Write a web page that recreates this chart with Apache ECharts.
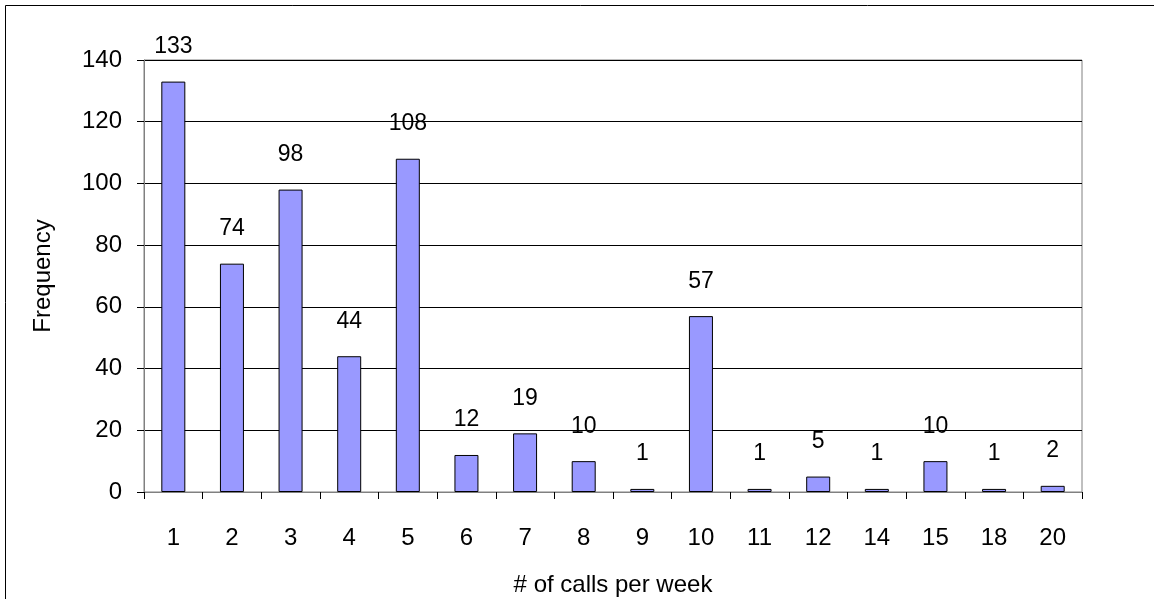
<!DOCTYPE html>
<html>
<head>
	<title>Calls per week</title>
	<script src="https://cdn.jsdelivr.net/npm/echarts@6/dist/echarts.min.js"></script>
	<style>
		html,body{
			height:100%;
			width:100%;
			margin:0;
			padding:0;
			background:#ffffff;
		}
		#chart{
			width:1154px;
			height:599px;
		}
	</style>
</head>
<body>
	<div id="chart"></div>
	<script type="text/javascript">
		var categories = ['1','2','3','4','5','6','7','8','9','10','11','12','14','15','18','20'];
		var frequency = [133, 74, 98, 44, 108, 12, 19, 10, 1, 57, 1, 5, 1, 10, 1, 2];
		var yTicks = [0, 20, 40, 60, 80, 100, 120, 140];

		var chart = echarts.init(document.getElementById('chart'));
		var font = 'Arial, "Liberation Sans", sans-serif';

		var option = {
			backgroundColor: '#ffffff',
			animation: false,
			graphic: [{//outer frame
				type: 'rect',
				shape: {x: 5.5, y: 5.5, width: 1300, height: 800},
				style: {fill: 'none', stroke: '#000000', lineWidth: 1},
				silent: true,
				z: -1
			}],
			grid: {
				left: 144,
				top: 60,
				right: 72,
				bottom: 107,
				outerBoundsMode: 'none',
				containLabel: false,
				show: true,
				borderColor: '#808080',
				borderWidth: 1
			},
			xAxis: {
				type: 'category',
				data: categories,
				name: '# of calls per week',
				nameLocation: 'middle',
				nameGap: 70,
				nameTextStyle: {fontFamily: font, fontSize: 24, color: '#000'},
				axisLine: {lineStyle: {color: '#808080', width: 1}},
				axisTick: {show: true, length: 7, lineStyle: {color: '#000'}},
				axisLabel: {fontFamily: font, fontSize: 24, color: '#000', margin: 26}
			},
			yAxis: {
				type: 'value',
				min: yTicks[0],
				max: yTicks[yTicks.length - 1],
				interval: 20,
				name: 'Frequency',
				nameLocation: 'middle',
				nameGap: 80,
				nameTextStyle: {fontFamily: font, fontSize: 24, color: '#000'},
				axisLine: {show: true, lineStyle: {color: '#808080', width: 1}},
				axisTick: {show: true, length: 7, lineStyle: {color: '#000'}},
				axisLabel: {fontFamily: font, fontSize: 24, color: '#000', margin: 22},
				splitLine: {show: true, lineStyle: {color: '#000000', width: 1}}
			},
			series: [{
				type: 'bar',
				data: frequency,
				barWidth: 24,
				itemStyle: {color: '#9999ff', borderColor: '#000000', borderWidth: 1},
				label: {
					show: true,
					position: 'top',
					distance: 15,
					fontFamily: font,
					fontSize: 23,
					color: '#000'
				}
			}]
		};

		chart.setOption(option);
	</script>
</body>
</html>
